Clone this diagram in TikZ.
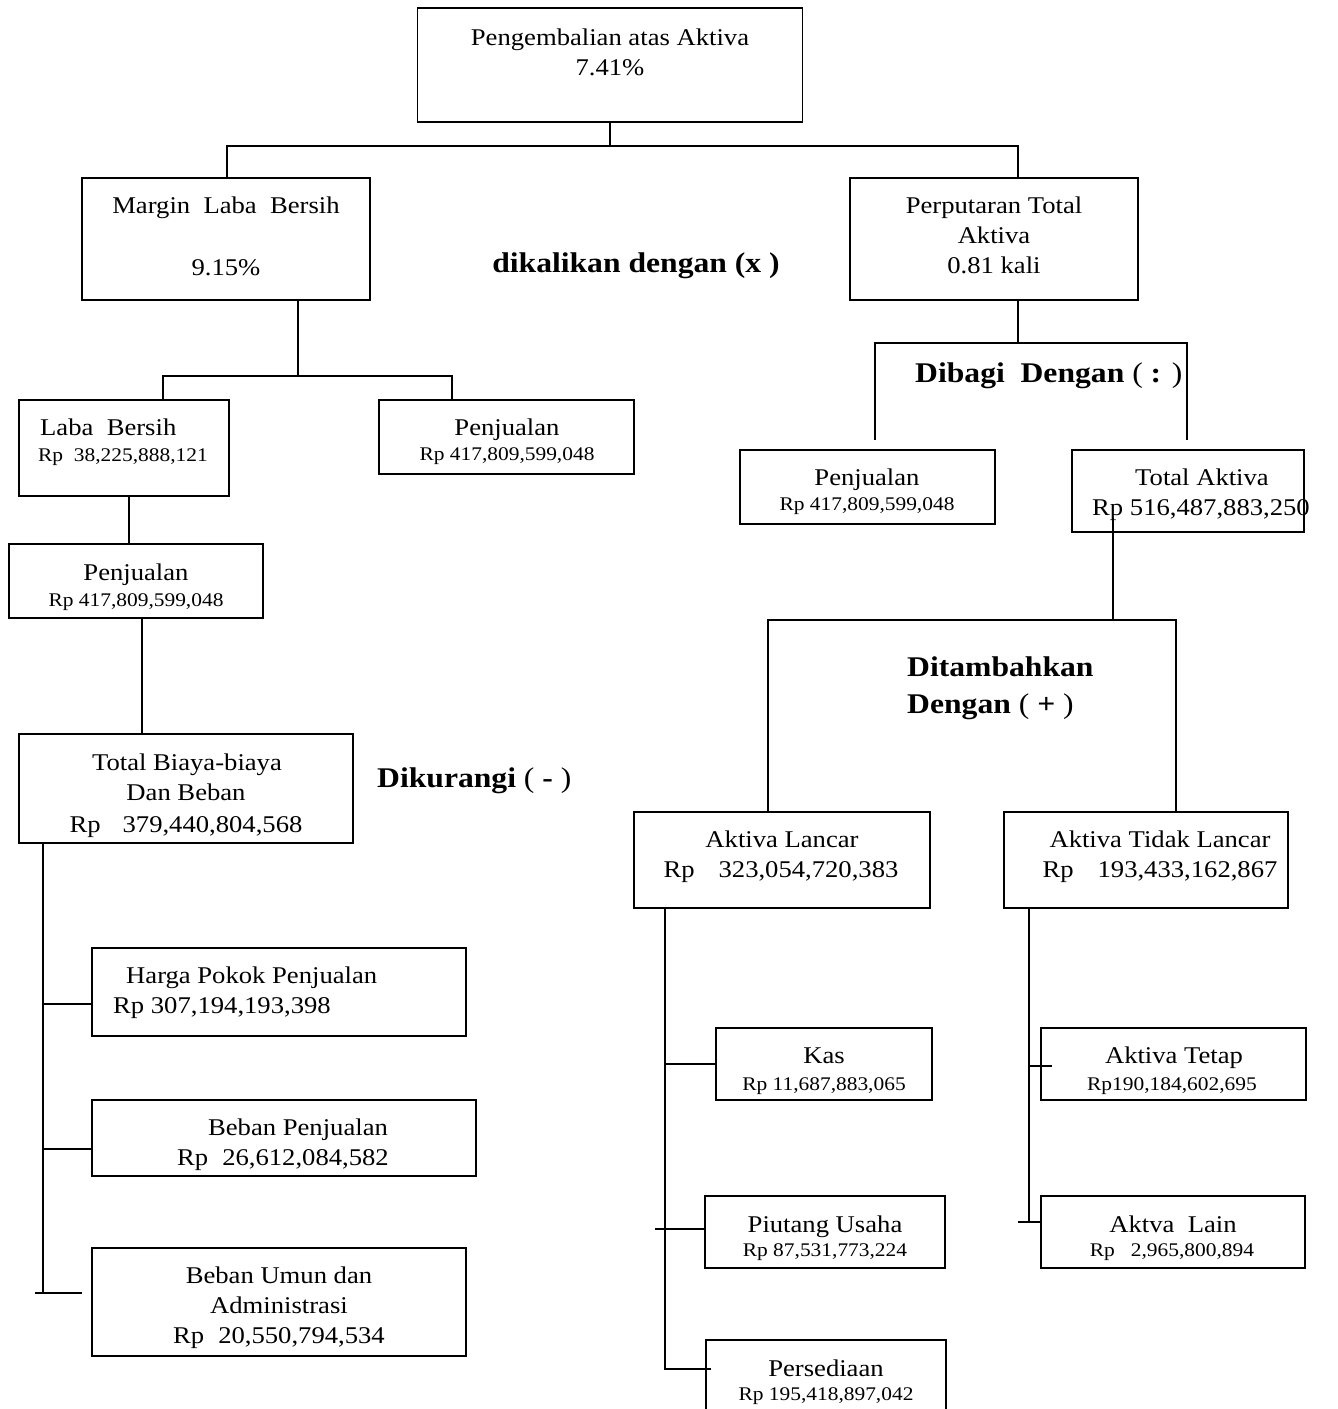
\documentclass[tikz,border=0pt]{standalone}
\usepackage{fontspec}
\setmainfont{Liberation Serif}[FakeStretch=1.11]
\newcommand\fmain{\fontsize{24}{30}\selectfont}
\newcommand\fsmall{\fontsize{19.3}{25}\selectfont}
\newcommand\fbig{\fontsize{28.5}{36}\selectfont\bfseries}
\tikzset{
  box/.style={draw, line width=1.8pt, inner sep=0pt, outer sep=0pt},
  conn/.style={line width=1.6pt},
  tm/.style={anchor=base, inner sep=0pt, font=\fmain},
  tml/.style={anchor=base west, inner sep=0pt, font=\fmain},
  ts/.style={anchor=base, inner sep=0pt, font=\fsmall},
  tsl/.style={anchor=base west, inner sep=0pt, font=\fsmall},
  tb/.style={anchor=base west, inner sep=0pt, font=\fbig},
  tbc/.style={anchor=base, inner sep=0pt, font=\fbig},
}
\begin{document}
\begin{tikzpicture}[x=1pt,y=-1pt]
\useasboundingbox (0,0) rectangle (1338,1409);

% ---------- boxes ----------
\node[box, minimum width=385pt, minimum height=114pt] (top)    at (610,65) {};
\node[box, minimum width=288pt, minimum height=122pt] (margin) at (226,239) {};
\node[box, minimum width=288pt, minimum height=122pt] (perp)   at (994,239) {};
\node[box, minimum width=210pt, minimum height=96pt]  (laba)   at (124,448) {};
\node[box, minimum width=255pt, minimum height=74pt]  (penjR)  at (506.5,437) {};
\node[box, minimum width=254pt, minimum height=74pt]  (penjL)  at (136,581) {};
\node[box, minimum width=334pt, minimum height=109pt] (biaya)  at (186,788.5) {};
\node[box, minimum width=374pt, minimum height=88pt]  (harga)  at (279,992) {};
\node[box, minimum width=384pt, minimum height=76pt]  (bebanp) at (284,1138) {};
\node[box, minimum width=374pt, minimum height=108pt] (bebanu) at (279,1302) {};
\node[box, minimum width=255pt, minimum height=74pt]  (penjRR) at (867.5,487) {};
\node[box, minimum width=232pt, minimum height=82pt]  (totakt) at (1188,491) {};
\node[box, minimum width=296pt, minimum height=96pt]  (lancar) at (782,860) {};
\node[box, minimum width=284pt, minimum height=96pt]  (tidak)  at (1146,860) {};
\node[box, minimum width=216pt, minimum height=72pt]  (kas)    at (824,1064) {};
\node[box, minimum width=240pt, minimum height=72pt]  (piut)   at (825,1232) {};
\node[box, minimum width=240pt, minimum height=80pt]  (persed) at (826,1380) {};
\node[box, minimum width=265pt, minimum height=72pt]  (tetap)  at (1173.5,1064) {};
\node[box, minimum width=264pt, minimum height=72pt]  (lain)   at (1173,1232) {};

% ---------- texts ----------
\node[tm] (t1a) at (610,45) {Pengembalian atas Aktiva};
\node[tm] (t1b) at (610,75) {7.41\%};
\node[tm] (t2a) at (226,213) {Margin\ \ Laba\ \ Bersih};
\node[tm] (t2b) at (226,275) {9.15\%};
\node[tm] (t3a) at (994,213) {Perputaran Total};
\node[tm] (t3b) at (994,243) {Aktiva};
\node[tm] (t3c) at (994,273) {0.81 kali};
\node[tbc] (op1) at (636,272) {dikalikan dengan (x )};

\node[tml] (t4a) at (40,435) {Laba\ \ Bersih};
\node[tsl] (t4b) at (38,461) {Rp\ \ 38,225,888,121};
\node[tm] (t5a) at (507,435) {Penjualan};
\node[ts] (t5b) at (507,460) {Rp 417,809,599,048};
\node[tm] (t6a) at (136,580) {Penjualan};
\node[ts] (t6b) at (136,606) {Rp 417,809,599,048};
\node[tm] (t7a) at (187,770) {Total Biaya-biaya};
\node[tm] (t7b) at (186,800) {Dan Beban};
\node[tm] (t7c) at (186,832) {Rp\hspace{22pt}379,440,804,568};
\node[tb] (op2) at (377,787) {Dikurangi {\mdseries(} - {\mdseries)}};

\node[tml] (t8a) at (126,983) {Harga Pokok Penjualan};
\node[tml] (t8b) at (113,1013) {Rp 307,194,193,398};
\node[tm] (t9a) at (298,1135) {Beban Penjualan};
\node[tm] (t9b) at (283,1165) {Rp\hspace{14pt}26,612,084,582};
\node[tm] (t10a) at (279,1283) {Beban Umun dan};
\node[tm] (t10b) at (279,1313) {Administrasi};
\node[tm] (t10c) at (279,1343) {Rp\hspace{14pt}20,550,794,534};

\node[tb] (op3) at (915,382) {Dibagi\ \ Dengan {\mdseries(} : {\mdseries)}};
\node[tm] (t11a) at (867,485) {Penjualan};
\node[ts] (t11b) at (867,510) {Rp 417,809,599,048};
\node[tm] (t12a) at (1202,485) {Total Aktiva};
\node[tm] (t12b) at (1201,515) {Rp 516,487,883,250};

\node[tb] (op4a) at (907,676) {Ditambahkan};
\node[tb] (op4b) at (907,713) {Dengan {\mdseries(} + {\mdseries)}};

\node[tm] (t13a) at (782,847) {Aktiva Lancar};
\node[tm] (t13b) at (781,877) {Rp\hspace{24pt}323,054,720,383};
\node[tm] (t14a) at (1160,847) {Aktiva Tidak Lancar};
\node[tm] (t14b) at (1160,877) {Rp\hspace{24pt}193,433,162,867};

\node[tm] (t15a) at (824,1063) {Kas};
\node[ts] (t15b) at (824,1090) {Rp 11,687,883,065};
\node[tm] (t16a) at (825,1232) {Piutang Usaha};
\node[ts] (t16b) at (825,1256) {Rp 87,531,773,224};
\node[tm] (t17a) at (826,1376) {Persediaan};
\node[ts] (t17b) at (826,1400) {Rp 195,418,897,042};
\node[tm] (t18a) at (1174,1063) {Aktiva Tetap};
\node[ts] (t18b) at (1172,1090) {Rp190,184,602,695};
\node[tm] (t19a) at (1173,1232) {Aktva\ \ Lain};
\node[ts] (t19b) at (1172,1256) {Rp\hspace{16pt}2,965,800,894};

% ---------- junction coordinates ----------
\coordinate (h1l) at (227,146);
\coordinate (h1r) at (1018,146);
\coordinate (h2m) at (298,376);
\coordinate (h2l) at (163,376);
\coordinate (h2r) at (452,376);
\coordinate (v3) at (129,0);
\coordinate (v4) at (142,0);
\coordinate (sp) at (43,1293);
\coordinate (spx) at (35,1293);
\coordinate (bu) at (82,1293);
\coordinate (h6m) at (1018,343);
\coordinate (h6l) at (875,343);
\coordinate (h6r) at (1187,343);
\coordinate (e6l) at (875,440);
\coordinate (e6r) at (1187,440);
\coordinate (v7a) at (1113,518);
\coordinate (h7m) at (1113,620);
\coordinate (h7l) at (768,620);
\coordinate (h7r) at (1176,620);
\coordinate (sl) at (665,1369);
\coordinate (pe) at (711,1369);
\coordinate (piA) at (655,1229);
\coordinate (st) at (1029,1222);
\coordinate (stx) at (1018,1222);
\coordinate (te) at (1052,1066);

% ---------- connectors ----------
\draw[conn] (top.south) -- (top.south |- h1l);
\draw[conn] (h1l |- margin.north) -- (h1l) -- (h1r) -- (h1r |- perp.north);

\draw[conn] (margin.south -| h2m) -- (h2m);
\draw[conn] (h2l |- laba.north) -- (h2l) -- (h2r) -- (h2r |- penjR.north);

\draw[conn] (laba.south -| v3) -- (penjL.north -| v3);
\draw[conn] (penjL.south -| v4) -- (biaya.north -| v4);

\draw[conn] (biaya.south -| sp) -- (sp);
\draw[conn] ([yshift=-12pt]harga.west) -- ([yshift=-12pt]harga.west -| sp);
\draw[conn] ([yshift=-11pt]bebanp.west) -- ([yshift=-11pt]bebanp.west -| sp);
\draw[conn] (spx) -- (bu);

\draw[conn] (perp.south -| h6m) -- (h6m);
\draw[conn] (e6l) -- (h6l) -- (h6r) -- (e6r);

\draw[conn] (v7a) -- (h7m);
\draw[conn] (h7l |- lancar.north) -- (h7l) -- (h7r) -- (h7r |- tidak.north);

\draw[conn] (lancar.south -| sl) -- (sl) -- (pe);
\draw[conn] (kas.west) -- (kas.west -| sl);
\draw[conn] (piA) -- (piA -| piut.west);

\draw[conn] (tidak.south -| st) -- (st);
\draw[conn] (te) -- (te -| st);
\draw[conn] (stx) -- (stx -| lain.west);
\end{tikzpicture}
\end{document}
